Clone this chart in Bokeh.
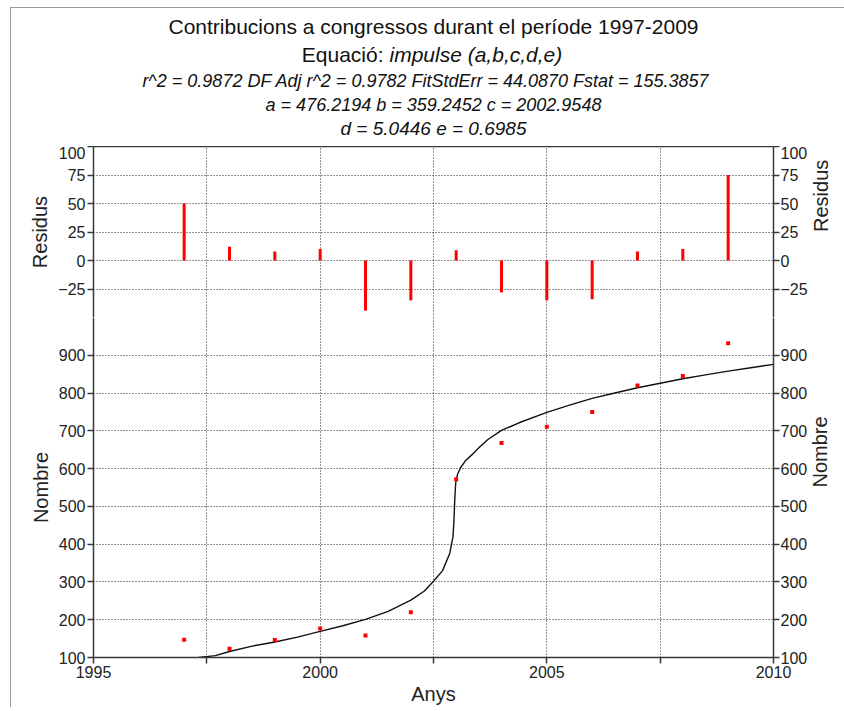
import math
from bokeh.plotting import figure
from bokeh.models import FixedTicker, LinearAxis, Range1d, Label
from bokeh.layouts import column
from bokeh.embed import file_html
from bokeh.resources import INLINE

# ---------------- data ----------------
years = [1997, 1998, 1999, 2000, 2001, 2002, 2003, 2004, 2005, 2006, 2007, 2008, 2009]
counts = [147, 123, 146, 177, 158, 220, 572, 668, 711, 750, 820, 845, 932]
residuals = [50, 12, 8, 10, -44, -35, 9, -28, -35, -34, 8, 10, 75]

curve_x = [1997.32, 1997.69, 1998.0, 1998.5, 1999.0, 1999.5, 2000.0, 2000.5, 2001.0,
           2001.5, 2002.0, 2002.3, 2002.5, 2002.7, 2002.86, 2002.93, 2002.95, 2002.97,
           2002.99, 2003.03, 2003.1, 2003.2, 2003.35, 2003.5, 2003.7, 2004.0, 2004.4,
           2005.0, 2005.5, 2006.0, 2006.5, 2007.0, 2007.5, 2008.0, 2008.5, 2009.0,
           2009.5, 2010.0]
curve_y = [100, 105, 116, 130, 141, 154, 169, 184, 201,
           222, 252, 276, 302, 330, 376, 420, 460, 520,
           562, 585, 603, 620, 637, 655, 677, 701, 722,
           749, 768, 786, 800, 814, 826, 838, 848, 858,
           867, 876]

x_ticks = [1995, 1997.5, 2000, 2002.5, 2005, 2007.5, 2010]
x_tick_labels = ["1995", "", "2000", "", "2005", "", "2010"]
res_ticks = [-25, 0, 25, 50, 75, 100]
res_grid = [-50, -25, 0, 25, 50, 75]
main_ticks = [100, 200, 300, 400, 500, 600, 700, 800, 900]

title1 = "Contribucions a congressos durant el període 1997-2009"
title2a = "Equació:"
title2b = "impulse (a,b,c,d,e)"
title3 = "r^2 = 0.9872  DF Adj r^2 = 0.9782  FitStdErr = 44.0870  Fstat = 155.3857"
title4 = "a = 476.2194 b = 359.2452 c = 2002.9548"
title5 = "d = 5.0446 e = 0.6985"

FONT = "Liberation Sans"
AXC = "#3a3a3a"
GRIDC = "#262626"
RED = "#ff0000"
FRAMEC = "#9a9a9a"

LEFT, RIGHT = 93, 68
FW = 680
HH = 146

# ---------------- header ----------------
hdr = figure(frame_width=FW, frame_height=HH,
             x_range=Range1d(0, FW), y_range=Range1d(0, HH),
             x_axis_type=None, y_axis_type=None, toolbar_location=None,
             output_backend="svg", min_border_left=LEFT, min_border_right=RIGHT,
             min_border_top=0, min_border_bottom=0)
hdr.grid.visible = False
hdr.outline_line_color = None
hdr.border_fill_color = None
hdr.background_fill_color = None


def lab(x, y, text, size, style="normal", align="center"):
    hdr.add_layout(Label(x=x, y=y, text=text, text_align=align, text_baseline="middle",
                         text_font=FONT, text_font_size=size, text_font_style=style,
                         text_color="#111111"))


cx = FW / 2
lab(cx, HH - 26, title1, "21px")
lab(290, HH - 54, title2a, "21px", align="right")
lab(296, HH - 54, title2b, "21px", style="italic", align="left")
lab(cx, HH - 80, title3, "18px", style="italic")
lab(cx, HH - 104, title4, "18px", style="italic")
lab(cx, HH - 128, title5, "19px", style="italic")


def style_axis(ax, label=None, right=False):
    ax.axis_line_color = AXC
    ax.axis_line_width = 1.5
    ax.major_tick_line_color = AXC
    ax.major_tick_line_width = 1.5
    ax.major_tick_in = 0
    ax.major_tick_out = 6
    ax.minor_tick_line_color = None
    ax.major_label_text_font = FONT
    ax.major_label_text_font_size = "16px"
    ax.major_label_text_color = "#222222"
    ax.major_label_standoff = 1 if right else 2
    if label:
        ax.axis_label = label
        ax.axis_label_text_font = FONT
        ax.axis_label_text_font_size = "20px"
        ax.axis_label_text_font_style = "normal"
        ax.axis_label_text_color = "#222222"
        ax.axis_label_standoff = 10 if right else 4
        if right:
            ax.axis_label_orientation = math.pi / 2


def style_grid(p):
    for g in (p.xgrid[0], p.ygrid[0]):
        g.grid_line_color = GRIDC
        g.grid_line_dash = "1 2"
        g.grid_line_width = 1


x_range = Range1d(1995, 2010)

# ---------------- residual panel ----------------
res = figure(frame_width=FW, frame_height=171, x_range=x_range, y_range=Range1d(-50, 100),
             x_axis_location=None, toolbar_location=None, output_backend="svg",
             min_border_left=LEFT, min_border_right=RIGHT, min_border_top=0, min_border_bottom=0)
res.outline_line_color = None
res.border_fill_color = None
res.yaxis.ticker = FixedTicker(ticks=res_ticks)
style_axis(res.yaxis[0], "Residus")
ra = LinearAxis(ticker=FixedTicker(ticks=res_ticks))
style_axis(ra, "Residus", right=True)
res.add_layout(ra, "right")
top = LinearAxis(ticker=FixedTicker(ticks=[]))
style_axis(top)
top.major_tick_out = 0
top.major_label_text_font_size = "0px"
top.major_label_standoff = 0
res.add_layout(top, "above")

res.xgrid.ticker = FixedTicker(ticks=x_ticks[1:-1])
res.ygrid.ticker = FixedTicker(ticks=res_grid)
style_grid(res)

res.segment(x0=years, y0=[0] * len(years), x1=years, y1=residuals,
            line_color=RED, line_width=3, line_cap="butt")

# ---------------- main panel ----------------
main = figure(frame_width=FW, frame_height=340, x_range=x_range, y_range=Range1d(100, 1000),
              toolbar_location=None, output_backend="svg",
              min_border_left=LEFT, min_border_right=RIGHT, min_border_top=0, min_border_bottom=44)
main.outline_line_color = None
main.border_fill_color = None
main.xaxis.ticker = FixedTicker(ticks=x_ticks)
main.xaxis.major_label_overrides = {t: l for t, l in zip(x_ticks, x_tick_labels)}
style_axis(main.xaxis[0], "Anys")
main.xaxis[0].axis_label_standoff = 2
main.yaxis.ticker = FixedTicker(ticks=main_ticks)
style_axis(main.yaxis[0], "Nombre")
ma = LinearAxis(ticker=FixedTicker(ticks=main_ticks))
style_axis(ma, "Nombre", right=True)
main.add_layout(ma, "right")

main.xgrid.ticker = FixedTicker(ticks=x_ticks[1:-1])
main.ygrid.ticker = FixedTicker(ticks=main_ticks[1:])
style_grid(main)

main.line(curve_x, curve_y, line_color="#111111", line_width=1.4)
main.scatter(years, counts, marker="square", size=4, fill_color=RED, line_color=None)

frame_bg = (f"linear-gradient({FRAMEC},{FRAMEC}) 10px 7px / 1px 100% no-repeat, "
            f"linear-gradient({FRAMEC},{FRAMEC}) 10px 7px / 100% 1px no-repeat, white")
layout = column(hdr, res, main, spacing=0, styles={"background": frame_bg})

open("out.html", "w").write(file_html(layout, INLINE))
